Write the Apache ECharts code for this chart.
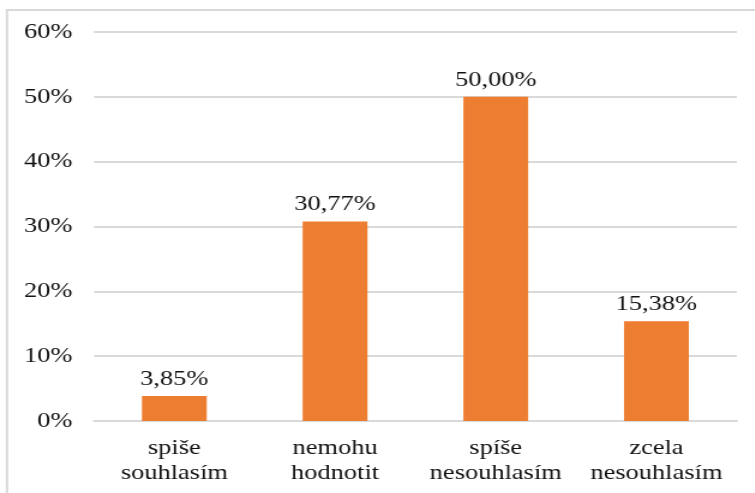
<!DOCTYPE html>
<html><head><meta charset="utf-8">
<script src="https://cdn.jsdelivr.net/npm/echarts@6/dist/echarts.min.js"></script>
<style>html,body{margin:0;padding:0;background:#fff;overflow:hidden}#c{width:629px;height:493px;transform:scaleX(1.2);transform-origin:0 0}</style>
</head><body><div id="c"></div>
<script>
const categories = ['spiše\nsouhlasím', 'nemohu\nhodnotit', 'spíše\nnesouhlasím', 'zcela\nnesouhlasím'];
const values = [3.85, 30.77, 50.00, 15.38];
const yTicks = [0, 10, 20, 30, 40, 50, 60];

const chart = echarts.init(document.getElementById('c'));
const font = '"Liberation Serif", "Times New Roman", serif';
chart.setOption({
  animation: false,
  graphic: [{type:'rect', shape:{x:5.8, y:10, width:640, height:500}, style:{fill:'none', stroke:'#d9d9d9', lineWidth:2}, z:-1}],
  grid: {left: 78.3, right: 15, top: 32, bottom: 72},
  xAxis: {
    type: 'category', data: categories,
    axisLine: {lineStyle: {color: '#d9d9d9', width: 2}},
    axisTick: {show: false},
    axisLabel: {interval: 0, fontFamily: font, fontSize: 22, color: '#111', margin: 15, lineHeight: 25}
  },
  yAxis: {
    type: 'value', min: yTicks[0], max: yTicks[yTicks.length-1], interval: 10,
    axisLine: {show: false}, axisTick: {show: false},
    splitLine: {lineStyle: {color: '#d9d9d9', width: 2}},
    axisLabel: {fontFamily: font, fontSize: 22, color: '#111', margin: 18, formatter: v => v + '%'}
  },
  series: [{
    type: 'bar', data: values, barWidth: 54,
    itemStyle: {color: '#ED7D31'},
    label: {show: true, position: 'top', distance: 6, fontFamily: font, fontSize: 22, color: '#111',
      formatter: p => p.value.toFixed(2).replace('.', ',') + '%'}
  }]
});
</script></body></html>
